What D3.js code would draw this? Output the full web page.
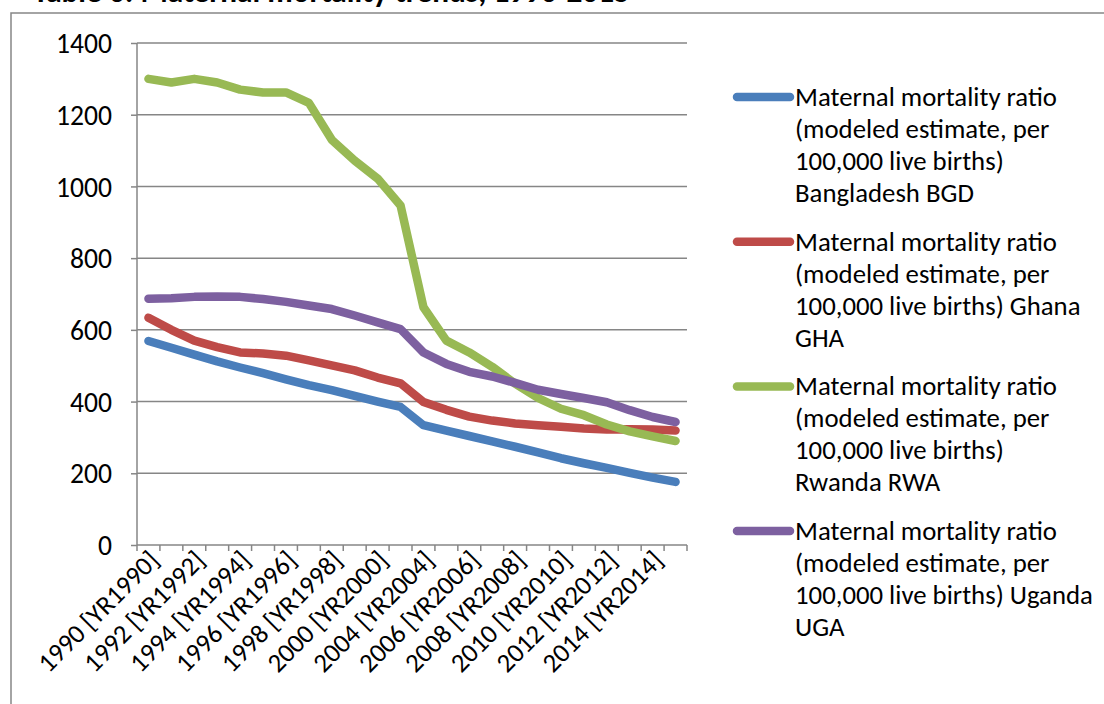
<!DOCTYPE html>
<html><head><meta charset="utf-8">
<script src="https://cdn.jsdelivr.net/npm/d3@7"></script>
<style>html,body{margin:0;padding:0;background:#fff;overflow:hidden}svg{display:block}</style>
</head><body>
<svg id="chart" width="1104" height="704"></svg>
<script>
const titleText = "Table 6: Maternal mortality trends, 1990-2015";
const categories = ["1990 [YR1990]","1991 [YR1991]","1992 [YR1992]","1993 [YR1993]","1994 [YR1994]","1995 [YR1995]","1996 [YR1996]","1997 [YR1997]","1998 [YR1998]","1999 [YR1999]","2000 [YR2000]","2001 [YR2001]","2004 [YR2004]","2005 [YR2005]","2006 [YR2006]","2007 [YR2007]","2008 [YR2008]","2009 [YR2009]","2010 [YR2010]","2011 [YR2011]","2012 [YR2012]","2013 [YR2013]","2014 [YR2014]","2015 [YR2015]"];
const bangladesh = [569,550,531,512,495,479,462,446,432,416,400,385,334,319,304,289,274,258,242,228,215,201,188,176];
const ghana = [634,600,570,552,537,534,528,515,501,487,467,451,399,377,358,347,339,334,330,325,322,323,322,319];
const rwanda = [1300,1290,1300,1290,1270,1262,1262,1233,1130,1072,1022,947,663,570,537,497,450,410,380,362,336,317,303,290];
const uganda = [687,688,692,693,692,686,678,668,658,640,621,602,537,505,483,470,452,433,421,410,398,376,357,343];
const seriesNames = [
  "Maternal mortality ratio (modeled estimate, per 100,000 live births) Bangladesh BGD",
  "Maternal mortality ratio (modeled estimate, per 100,000 live births) Ghana GHA",
  "Maternal mortality ratio (modeled estimate, per 100,000 live births) Rwanda RWA",
  "Maternal mortality ratio (modeled estimate, per 100,000 live births) Uganda UGA"
];
const legendLines = [
  ["Maternal mortality ratio","(modeled estimate, per","100,000 live births)","Bangladesh BGD"],
  ["Maternal mortality ratio","(modeled estimate, per","100,000 live births) Ghana","GHA"],
  ["Maternal mortality ratio","(modeled estimate, per","100,000 live births)","Rwanda RWA"],
  ["Maternal mortality ratio","(modeled estimate, per","100,000 live births) Uganda","UGA"]
];
const seriesColors = ["#4A7EBB","#BE4B48","#98B954","#7D60A0"];
const yTicks = [0,200,400,600,800,1000,1200,1400];

const seriesValues = [bangladesh, ghana, rwanda, uganda];
const FONT = "Carlito, Lato, 'Open Sans', sans-serif";
const svg = d3.select("#chart");
const gridColor = "#868686";

function fitSize(text, targetW, weight) {
  const t = svg.append("text").attr("font-family", FONT).attr("font-size", 100)
    .attr("font-weight", weight || "normal").text(text);
  const w = t.node().getComputedTextLength();
  t.remove();
  return 100 * targetW / w;
}
const legendSize = fitSize("Maternal mortality ratio", 262);
const tickSize = fitSize("1400", 56);
const xLabSize = fitSize("1990 [YR1990]", 158);
const titleSize = fitSize(titleText, 597, "bold");

// outer frame
svg.append("rect").attr("x", 11).attr("y", 13).attr("width", 1200).attr("height", 800)
  .attr("fill", "none").attr("stroke", gridColor).attr("stroke-width", 1.5);

// title (cut off at top, as in the reference)
svg.append("text").attr("x", 33).attr("y", 1.5).attr("font-family", FONT)
  .attr("font-weight", "bold").attr("font-size", titleSize).attr("fill", "#000").text(titleText);

const x = d3.scaleBand().domain(categories).range([137, 687]).paddingInner(0).paddingOuter(0);
const y = d3.scaleLinear().domain([0, 1400]).range([545, 43]);

// gridlines
svg.append("g").selectAll("line").data(yTicks.filter(d => d > 0)).join("line")
  .attr("x1", 137).attr("x2", 687).attr("y1", d => y(d)).attr("y2", d => y(d))
  .attr("stroke", gridColor).attr("stroke-width", 1.5);

// y axis
const yAxis = d3.axisLeft(y).tickValues(yTicks).tickSize(6).tickPadding(19).tickFormat(d3.format("d"));
const gy = svg.append("g").attr("transform", "translate(137,0)").call(yAxis);
gy.select(".domain").attr("stroke", gridColor).attr("stroke-width", 1.5).attr("d", `M0,${y(1400)}V${y(0)}`);
gy.selectAll(".tick line").attr("stroke", gridColor).attr("stroke-width", 1.5);
gy.selectAll(".tick text").attr("font-family", FONT).attr("font-size", tickSize).attr("fill", "#000")
  .attr("dy", "0.35em");

// x axis line and tick marks at band boundaries
const boundaries = categories.map(c => x(c)).concat([x(categories[categories.length - 1]) + x.bandwidth()]);
svg.append("line").attr("x1", 137).attr("x2", 687).attr("y1", y(0)).attr("y2", y(0))
  .attr("stroke", gridColor).attr("stroke-width", 1.5);
svg.append("g").selectAll("line").data(boundaries).join("line")
  .attr("x1", d => d).attr("x2", d => d).attr("y1", y(0)).attr("y2", y(0) + 6)
  .attr("stroke", gridColor).attr("stroke-width", 1.5);

// x labels (every other)
const labelCats = categories.filter((c, i) => i % 2 === 0);
svg.append("g").selectAll("text").data(labelCats).join("text")
  .attr("transform", d => `translate(${x(d) + x.bandwidth() / 2 + 12},${y(0) + 17}) rotate(-45)`)
  .attr("text-anchor", "end").attr("font-family", FONT).attr("font-size", xLabSize).attr("fill", "#000")
  .text(d => d);

// lines
const line = d3.line().x((d, i) => x(categories[i]) + x.bandwidth() / 2).y(d => y(d));
svg.append("g").selectAll("path").data(seriesValues).join("path")
  .attr("d", d => line(d)).attr("fill", "none")
  .attr("stroke", (d, i) => seriesColors[i]).attr("stroke-width", 8.5)
  .attr("stroke-linejoin", "round").attr("stroke-linecap", "round");

// legend
const lg = svg.append("g");
const blocks = lg.selectAll("g").data(legendLines).join("g")
  .attr("transform", (d, i) => `translate(0,${106 + i * 144.7})`);
blocks.append("line").attr("x1", 737).attr("x2", 790).attr("y1", -9).attr("y2", -9)
  .attr("stroke", (d, i) => seriesColors[i]).attr("stroke-width", 8.5).attr("stroke-linecap", "round");
blocks.append("text").attr("font-family", FONT).attr("font-size", legendSize).attr("fill", "#000")
  .selectAll("tspan").data(d => d).join("tspan")
  .attr("x", 795).attr("y", (d, i) => i * 32).text(d => d);
</script>
</body></html>
